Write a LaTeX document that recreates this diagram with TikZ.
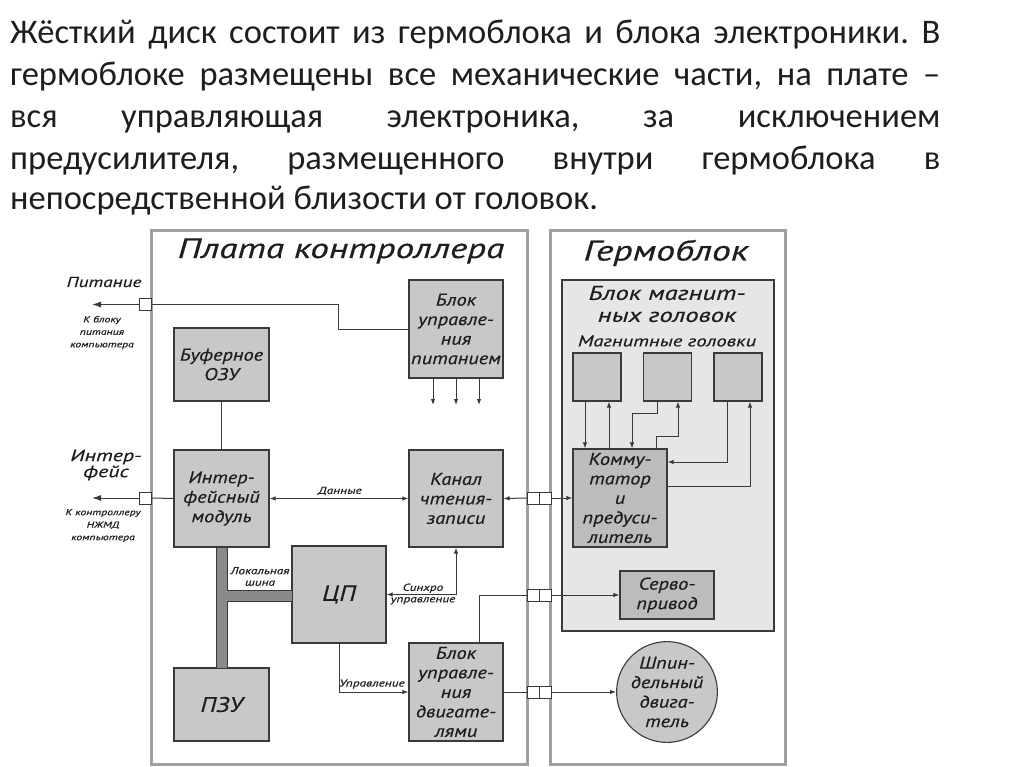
\documentclass[tikz,border=0pt]{standalone}
\usepackage{fontspec}
\setmainfont{Carlito}
\newfontfamily\dfont{PT Sans}[FakeStretch=1.33,FakeBold=0.4]
\newfontfamily\bfont{PT Sans}[FakeStretch=1.2,FakeBold=0.4]
\usetikzlibrary{arrows.meta,calc}
\definecolor{edge}{HTML}{3A3A3A}
\definecolor{boxf}{HTML}{C8C8C8}
\definecolor{darkf}{HTML}{BCBCBC}
\definecolor{innerf}{HTML}{E6E6E6}
\definecolor{framec}{HTML}{A0A0A0}
\definecolor{busf}{HTML}{8A8A8A}
\definecolor{txt}{HTML}{1E1E1E}
\tikzset{
  blk/.style={draw=edge, fill=boxf, line width=1.1pt, align=center, inner sep=0pt,
    text=txt, font=\bfont\itshape\fontsize{17}{19.5}\selectfont},
  frame/.style={draw=framec, line width=3pt},
  wire/.style={draw=edge, line width=1pt},
  arr/.style={wire, -{Latex[length=6pt,width=4.5pt]}},
  arrb/.style={wire, {Latex[length=6pt,width=4.5pt]}-{Latex[length=6pt,width=4.5pt]}},
  bigarr/.style={wire, -{Latex[length=9pt,width=6pt]}},
  conn/.style={draw=edge, fill=white, line width=1pt, minimum size=12pt, inner sep=0pt},
  dconn/.style={draw=edge, fill=white, line width=1pt, minimum width=24pt, minimum height=12pt, inner sep=0pt,
    path picture={\draw[edge, line width=1pt] (path picture bounding box.north) -- (path picture bounding box.south);}},
  lab/.style={align=center, inner sep=0pt, text=txt, font=\dfont\itshape\fontsize{10}{11.5}\selectfont},
  tiny/.style={align=center, inner sep=0pt, text=txt, font=\dfont\itshape\fontsize{8.8}{12.5}\selectfont},
  para/.style={anchor=base west, inner sep=0pt, text=txt, font=\fontsize{34.5}{34.5}\selectfont},
}
\begin{document}
\frenchspacing
\begin{tikzpicture}[x=1pt,y=-1pt]
\useasboundingbox[fill=white] (0,0) rectangle (1024,767);

% paragraph
\node[para] (t1) at (10,44) {\makebox[930pt][s]{Жёсткий диск состоит из гермоблока и блока электроники. В}};
\node[para] (t2) at (10,86) {\makebox[930pt][s]{гермоблоке размещены все механические части, на плате –}};
\node[para] (t3) at (10,128) {\makebox[930pt][s]{вся управляющая электроника, за исключением}};
\node[para] (t4) at (10,170) {\makebox[930pt][s]{предусилителя, размещенного внутри гермоблока в}};
\node[para] (t5) at (10,210) {непосредственной близости от головок.};

% frames
\draw[frame] (151,231) rectangle (527,764);
\draw[frame] (550,231) rectangle (785,764);
\draw[draw=edge, fill=innerf, line width=1.1pt] (562,280) rectangle (774,631);

\node[text=txt, font=\dfont\itshape\fontsize{28}{30}\selectfont] (ttl1) at (341,251) {Плата контроллера};
\node[text=txt, font=\dfont\itshape\fontsize{28.5}{30}\selectfont] (ttl2) at (666,253) {Гермоблок};
\node[text=txt, align=center, font=\dfont\itshape\fontsize{20}{22}\selectfont] (ttl3) at (667,304) {Блок магнит-\\ных головок};
\node[text=txt, font=\dfont\itshape\fontsize{15.5}{16}\selectfont] (ttl4) at (667,341) {Магнитные головки};

% blocks
\node[blk, minimum width=94pt, minimum height=98pt] (pw) at (456,329) {Блок\\управле-\\ния\\питанием};
\node[blk, minimum width=95pt, minimum height=73pt] (buf) at (221.5,364.5) {Буферное\\ОЗУ};
\node[blk, minimum width=95pt, minimum height=97pt] (ifm) at (221.5,498.5) {Интер-\\фейсный\\модуль};
\node[blk, minimum width=94pt, minimum height=97pt] (kan) at (456,498.5) {Канал\\чтения-\\записи};
\node[blk, minimum width=94pt, minimum height=97pt, font=\bfont\itshape\fontsize{22}{22}\selectfont] (cpu) at (339,594.5) {ЦП};
\node[blk, minimum width=95pt, minimum height=73pt, font=\bfont\itshape\fontsize{21}{22}\selectfont] (rom) at (221.5,704.5) {ПЗУ};
\node[blk, minimum width=94pt, minimum height=98pt] (mot) at (456,692) {Блок\\управле-\\ния\\двигате-\\лями};

\node[blk, minimum size=48pt] (h1) at (597,377) {};
\node[blk, minimum size=48pt] (h2) at (667.5,377) {};
\node[blk, minimum size=48pt] (h3) at (738,377) {};
\node[blk, fill=darkf, minimum width=94pt, minimum height=98pt] (comm) at (620,498) {Комму-\\татор\\и\\предуси-\\литель};
\node[blk, fill=darkf, minimum width=94pt, minimum height=48pt] (servo) at (667,595) {Серво-\\привод};
\node[blk, circle, minimum size=92pt] (sp) at (667,692) {Шпин-\\дельный\\двига-\\тель};

% bus
\fill[busf, draw=edge, line width=0.8pt] (216,547) -- (227,547) -- (227,590) -- (292,590) -- (292,601) -- (227,601) -- (227,668) -- (216,668) -- cycle;
\node[lab] (bl) at (260,576.5) {Локальная\\шина};

% power
\node[conn] (cp) at (145,304.5) {};
\coordinate (pl) at (92,304.5);
\draw[bigarr] (cp.west) -- (pl);
\draw[wire] (cp.east) -- (338,304.5) |- (pw.west);
\node[text=txt, font=\dfont\itshape\fontsize{14.5}{18}\selectfont] (plab) at (104,282) {Питание};
\node[tiny] (psub) at (102,332.5) {К блоку\\питания\\компьютера};
\coordinate (pa1) at (433,405);
\coordinate (pa2) at (456,405);
\coordinate (pa3) at (479,405);
\draw[arr] (pw.south -| pa1) -- (pa1);
\draw[arr] (pw.south -| pa2) -- (pa2);
\draw[arr] (pw.south -| pa3) -- (pa3);

% interface
\draw[wire] (buf.south) -- (ifm.north);
\node[conn] (ci) at (145,498) {};
\coordinate (il) at (92,498);
\draw[wire] (ifm.west) -- (ci.east);
\draw[bigarr] (ci.west) -- (il);
\node[text=txt, align=center, font=\dfont\itshape\fontsize{16.5}{16}\selectfont] (ilab) at (106,465) {Интер-\\фейс};
\node[tiny] (isub) at (103,525.5) {К контроллеру\\НЖМД\\компьютера};

\draw[arrb] (ifm.east) -- (kan.west);
\node[lab] (dl) at (340,491) {Данные};

% read/write to commutator
\node[dconn] (c1) at (539,498) {};
\draw[arr] (c1.west) -- (kan.east);
\draw[arr] (c1.east) -- (comm.west);

% sync
\draw[arrb] (cpu.east) -| (kan.south);
\node[lab] (sl) at (423,594) {Синхро\\управление};

% control
\draw[arr] (cpu.south) |- (mot.west);
\node[lab] (ul) at (372,684) {Управление};

% servo
\node[dconn] (c2) at (539,595) {};
\draw[wire] ($(mot.north)+(23,0)$) |- (c2.west);
\draw[arr] (c2.east) -- (servo.west);

% spindle
\node[dconn] (c3) at (539,692) {};
\draw[wire] (mot.east) -- (c3.west);
\draw[arr] (c3.east) -- (sp.west);

% heads wiring
\draw[arr] ($(h1.south)+(-12,0)$) -- ($(comm.north)+(-35,0)$);
\draw[arr] ($(comm.north)+(-11,0)$) -- ($(h1.south)+(12,0)$);
\draw[arr] ($(h2.south)+(-10.5,0)$) -- ++(0,12) -| ($(comm.north)+(12,0)$);
\draw[arr] ($(comm.north)+(36,0)$) -- ++(0,-12) -| ($(h2.south)+(10.5,0)$);
\draw[arr] ($(h3.south)+(-11,0)$) |- ($(comm.east)+(0,-36)$);
\draw[arr] ($(comm.east)+(0,-12)$) -| ($(h3.south)+(12,0)$);
\end{tikzpicture}
\end{document}
